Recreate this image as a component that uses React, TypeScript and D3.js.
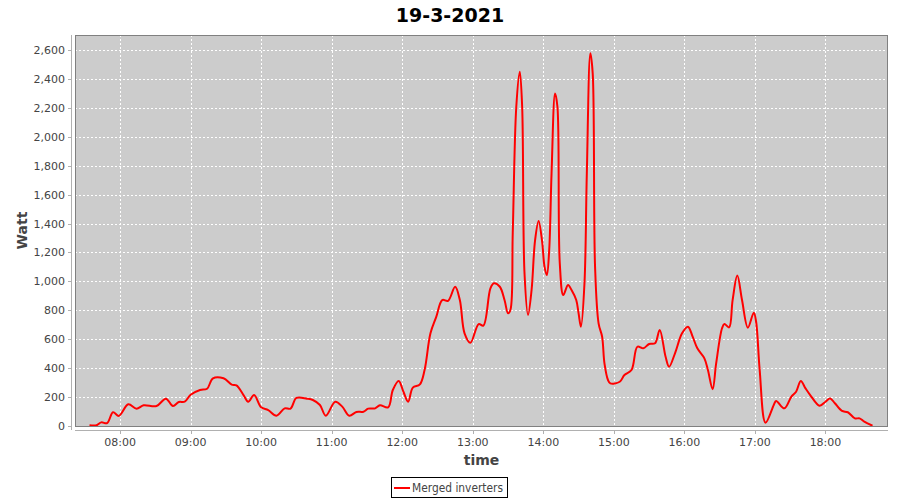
import React from "react";
import * as d3 from "d3";

const title = "19-3-2021";
const seriesName = "Merged inverters";
const xLabel = "time";
const yLabel = "Watt";

const times = ["07:34","07:40","07:44","07:49","07:54","07:59","08:07","08:14","08:20","08:31","08:39","08:45","08:50","08:55","09:00","09:08","09:14","09:19","09:28","09:35","09:39","09:45","09:49","09:54","10:00","10:06","10:13","10:20","10:25","10:30","10:39","10:44","10:50","10:55","11:03","11:09","11:15","11:21","11:27","11:31","11:37","11:41","11:48","11:52","11:57","12:01","12:05","12:09","12:15","12:19","12:24","12:29","12:34","12:39","12:45","12:49","12:53","12:58","13:05","13:09","13:15","13:18","13:23","13:27","13:30","13:32","13:34","13:37","13:40","13:42","13:44","13:47","13:50","13:53","13:56","13:59","14:01","14:03","14:05","14:07","14:10","14:12","14:14","14:17","14:21","14:24","14:28","14:30","14:32","14:35","14:37","14:40","14:42","14:44","14:47","14:50","14:52","14:55","14:57","15:05","15:09","15:15","15:20","15:25","15:30","15:35","15:39","15:44","15:47","15:52","15:58","16:03","16:07","16:11","16:17","16:20","16:24","16:27","16:32","16:34","16:38","16:41","16:45","16:49","16:54","16:59","17:01","17:04","17:09","17:16","17:18","17:25","17:31","17:35","17:39","17:43","17:47","17:55","18:00","18:04","18:08","18:14","18:19","18:25","18:29","18:33","18:40"];

const watts = [5,5,25,20,95,70,150,120,143,138,189,138,166,168,216,249,258,330,330,286,281,214,168,214,129,110,71,122,120,194,189,180,145,71,168,134,71,97,99,120,122,143,129,249,311,237,168,265,288,387,641,756,871,866,963,871,641,576,705,694,952,987,963,871,779,802,1337,2208,2450,2208,1056,768,940,1286,1418,1274,1102,1044,1217,1747,2300,2208,1125,906,975,940,871,779,687,987,1747,2577,2439,1102,710,618,433,318,295,306,353,387,548,537,567,572,664,479,410,503,641,687,618,537,468,387,254,433,676,705,682,871,1040,871,680,784,721,390,23,145,173,122,203,237,311,260,214,140,168,191,157,104,95,53,53,30,2];

const xDomain = ["07:21:40", "18:53:10"];
const yMax = 2704;
const yTicks = [0,200,400,600,800,1000,1200,1400,1600,1800,2000,2200,2400,2600];

export default function App() {
  const W = 900, H = 500;
  const left = 75, right = 888, top = 35, bottom = 426;
  const parseHM = d3.timeParse("%H:%M");
  const parseHMS = d3.timeParse("%H:%M:%S");
  const x = d3.scaleTime()
    .domain([parseHMS(xDomain[0])!, parseHMS(xDomain[1])!])
    .range([left, right]);
  const y = d3.scaleLinear().domain([0, yMax]).range([bottom, top]);
  const data = times.map((t, i) => ({ t: parseHM(t)!, v: watts[i] }));
  const line = d3.line<{ t: Date; v: number }>()
    .x(d => x(d.t))
    .y(d => y(d.v))
    .curve(d3.curveCatmullRom.alpha(0.5));
  const xTicks = x.ticks(d3.timeHour.every(1)!);
  const fmt = d3.timeFormat("%H:%M");
  const yFmt = d3.format(",");
  const font = "'DejaVu Sans', sans-serif";

  return (
    <svg width={W} height={H} style={{ position: "absolute", left: 0, top: 0, background: "#fff" }} fontFamily={font}>
      <rect x={0} y={0} width={W} height={H} fill="#fff" />
      <text x={450} y={22} textAnchor="middle" fontSize={19} fontWeight="bold" fill="#000">{title}</text>
      <rect x={left} y={top} width={right - left} height={bottom - top} fill="#cccccc" />
      {yTicks.map(v => (
        <line key={"gy" + v} x1={left} x2={right} y1={Math.round(y(v)) + 0.5} y2={Math.round(y(v)) + 0.5} stroke="#fff" strokeDasharray="2,2" strokeWidth={1} />
      ))}
      {xTicks.map((t, i) => (
        <line key={"gx" + i} x1={Math.round(x(t)) + 0.5} x2={Math.round(x(t)) + 0.5} y1={top} y2={bottom} stroke="#fff" strokeDasharray="2,2" strokeWidth={1} />
      ))}
      <clipPath id="plotclip"><rect x={left} y={top} width={right - left} height={bottom - top} /></clipPath>
      <path d={line(data) || ""} fill="none" stroke="#ff0000" strokeWidth={2} strokeLinejoin="round" clipPath="url(#plotclip)" />
      <rect x={left + 0.5} y={top + 0.5} width={right - left - 1} height={bottom - top} fill="none" stroke="#808080" strokeWidth={1} />
      {/* Y axis */}
      <line x1={71.5} x2={71.5} y1={top} y2={bottom + 4} stroke="#b0b0b0" />
      {yTicks.map(v => (
        <g key={"ty" + v}>
          <line x1={68} x2={71} y1={Math.round(y(v)) + 0.5} y2={Math.round(y(v)) + 0.5} stroke="#b0b0b0" />
          <text x={65} y={y(v) + 4} textAnchor="end" fontSize={11} fill="#444">{yFmt(v)}</text>
        </g>
      ))}
      {/* X axis */}
      <line x1={left} x2={right} y1={430.5} y2={430.5} stroke="#b0b0b0" />
      {xTicks.map((t, i) => (
        <g key={"tx" + i}>
          <line x1={Math.round(x(t)) + 0.5} x2={Math.round(x(t)) + 0.5} y1={431} y2={434} stroke="#b0b0b0" />
          <text x={x(t)} y={446} textAnchor="middle" fontSize={11} fill="#444">{fmt(t)}</text>
        </g>
      ))}
      <text x={(left + right) / 2} y={465} textAnchor="middle" fontSize={14} fontWeight="bold" fill="#444">{xLabel}</text>
      <text transform={`translate(27, ${(top + bottom) / 2}) rotate(-90)`} textAnchor="middle" fontSize={14} fontWeight="bold" fill="#444">{yLabel}</text>
      {/* Legend */}
      <rect x={391.5} y={477.5} width={116} height={20} fill="#fff" stroke="#000" />
      <line x1={394} x2={410} y1={488} y2={488} stroke="#ff0000" strokeWidth={2} />
      <text x={412} y={492} fontSize={11.5} fill="#444" textLength={91} lengthAdjust="spacingAndGlyphs">{seriesName}</text>
    </svg>
  );
}
